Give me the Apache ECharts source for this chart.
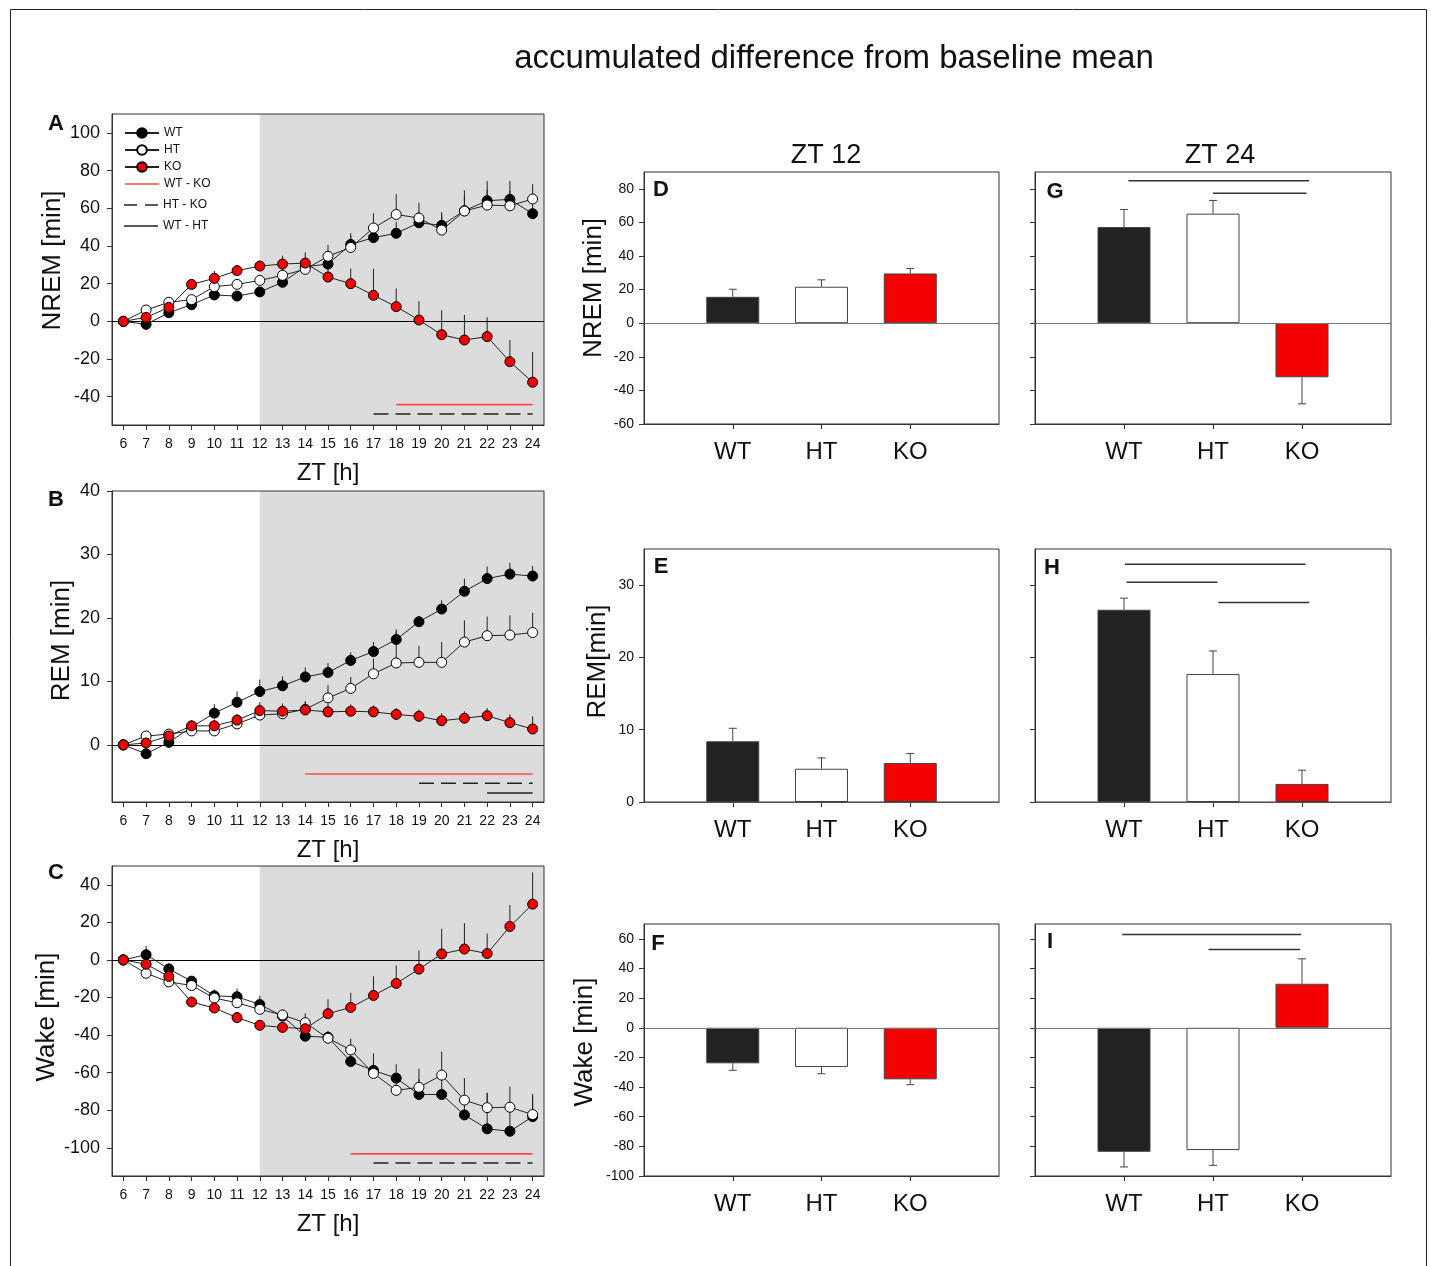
<!DOCTYPE html>
<html><head><meta charset="utf-8">
<script src="https://cdn.jsdelivr.net/npm/echarts@6/dist/echarts.min.js"></script>
<style>html,body{margin:0;padding:0;background:#fff}#c{width:1431px;height:1266px}</style>
</head><body><div id="c"></div>
<script>
const FONT = '"Liberation Sans", Arial, Helvetica, sans-serif';

// ---------- DATA ----------
const hours = [6,7,8,9,10,11,12,13,14,15,16,17,18,19,20,21,22,23,24];
const groups = ['WT','HT','KO'];
const darkStart = 12;

// NREM accumulated difference (panel A)
const nremWT    = [0,-1.6,4.6,8.8,14.0,13.4,15.6,20.7,29.0,30.4,40.8,44.4,46.7,52.3,50.9,58.7,64.0,64.7,57.1];
const nremWTerr = [0,1.5,2,2,2.5,2.5,2.5,3,4,6,6,5,6,6,6,8,10.4,9.7,7];
const nremHT    = [0,6.0,10.1,11.5,18.4,19.6,21.7,24.4,27.6,34.5,39.2,49.5,56.7,54.8,48.4,58.5,61.7,61.3,64.9];
const nremHTerr = [0,2,2,2.5,3,3,3,4,5,6,6,7.8,10.8,8.1,9.5,11,8,8,7.9];
const nremKO    = [0,2.1,7.4,19.6,22.8,26.9,29.3,30.4,30.9,23.5,20.0,13.8,7.8,0.7,-7.1,-9.9,-8.1,-21.4,-32.3];
const nremKOerr = [0,2,2,2.5,3.9,3,3,4.4,5.7,4.4,8,14,9.7,10,13,13.3,10.2,11.5,16];

// REM accumulated difference (panel B)
const remWT    = [0,-1.4,0.4,2.8,5.0,6.7,8.4,9.3,10.7,11.4,13.3,14.7,16.6,19.4,21.4,24.2,26.2,26.9,26.6];
const remWTerr = [0,0.5,0.5,0.8,1.4,1.7,1.9,1.5,1.5,1.5,1.3,1.5,1.6,0.9,1.4,2.0,1.9,1.8,1.6];
const remHT    = [0,1.4,1.7,2.2,2.2,3.3,4.7,4.9,5.6,7.4,8.9,11.2,12.9,13.0,13.0,16.2,17.2,17.3,17.7];
const remHTerr = [0,0.5,0.6,0.8,0.9,1.0,1.2,1.2,1.3,2.0,1.8,2.4,5.0,2.6,3.2,3.4,3.0,3.1,3.1];
const remKO    = [0,0.3,1.4,3.0,3.0,3.9,5.4,5.3,5.5,5.2,5.3,5.2,4.8,4.5,3.8,4.2,4.6,3.5,2.5];
const remKOerr = [0,0.5,0.5,0.9,1.0,1.0,1.3,1.2,1.2,1.3,1.1,1.0,1.0,1.1,1.2,1.1,1.2,1.3,2.0];

// Wake accumulated difference (panel C)
const wakeWT    = [0,2.8,-4.8,-11.3,-19.1,-19.6,-23.7,-29.9,-40.6,-41.2,-54.1,-58.8,-62.9,-71.6,-71.6,-82.5,-89.9,-91.2,-83.4];
const wakeWTerr = [0,4.6,3.2,1.8,3.4,4.4,4.6,3,4,3,5,9,7.4,8,8,8,19,13,11];
const wakeHT    = [0,-7.1,-11.7,-13.6,-20.3,-22.8,-26.3,-29.3,-33.4,-41.7,-47.9,-60.4,-69.4,-67.8,-61.3,-74.6,-78.6,-78.4,-82.3];
const wakeHTerr = [0,2,2,2,3,3,3,3,5,4,6,7,8,10,12.5,11.7,8,11,11];
const wakeKO    = [0,-2.3,-8.8,-22.4,-25.6,-30.7,-34.8,-35.9,-36.6,-28.6,-25.3,-18.9,-12.5,-4.9,3.2,5.8,3.4,17.8,29.7];
const wakeKOerr = [0,2,2,2.8,3,3,2.6,3,5,7.6,7.8,10.2,9.5,10,13.4,13.8,10.6,11.5,16.9];

// Bar panels: value at ZT12 / ZT24 and SEM
const nremZT12 = [15.7,21.7,29.6],  nremZT12err = [4.5,4.1,3.0];
const nremZT24 = [57.2,65.2,-32.2], nremZT24err = [10.5,7.9,15.8];
const remZT12  = [8.4,4.6,5.4],     remZT12err  = [1.8,1.5,1.3];
const remZT24  = [26.6,17.7,2.5],   remZT24err  = [1.6,3.2,1.9];
const wakeZT12 = [-24.0,-26.5,-34.8], wakeZT12err = [4.7,4.5,3.6];
const wakeZT24 = [-83.7,-82.5,29.7],  wakeZT24err = [10.2,10.3,16.8];

// Tick labels
const nremTicks = [-40,-20,0,20,40,60,80,100];
const remTicks  = [0,10,20,30,40];
const wakeTicks = [-100,-80,-60,-40,-20,0,20,40];
const barNremTicks = [-60,-40,-20,0,20,40,60,80];
const barRemTicks  = [0,10,20,30];
const barWakeTicks = [-100,-80,-60,-40,-20,0,20,40,60];

// Significance bars: [pair, from, to, level]
const sigNrem = [['WT - KO',18,24,-44.2],['HT - KO',17,24,-49.2]];
const sigRem  = [['WT - KO',14,24,-4.6],['HT - KO',19,24,-6.05],['WT - HT',22,24,-7.6]];
const sigWake = [['WT - KO',16,24,-103.2],['HT - KO',17,24,-108.1]];
const sigG = [[1.05,3.08,84.8],[2.0,3.05,77.4]];
const sigH = [[1.01,3.04,32.9],[1.03,2.05,30.4],[2.06,3.08,27.6]];
const sigI = [[0.98,2.99,62.9],[1.95,2.98,52.8]];

// ---------- LAYOUT / STYLE ----------
const boxes = [
  [112,114,432,311],[112,491,432,311],[112,866,432,310],
  [644,172,355,252],[644,549,355,253],[644,924,355,252],
  [1035,172,356,252],[1035,549,356,253],[1035,924,356,252]
];
const sigStyle = {
  'WT - KO': {color:'#ff4a4a', width:1.6, type:'solid'},
  'HT - KO': {color:'#222', width:1.5, type:[15,7]},
  'WT - HT': {color:'#222', width:1.5, type:'solid'}
};
const sigIcon = {
  'WT - KO': 'path://M0,0H34V1.6H0Z',
  'HT - KO': 'path://M0,0H13V1.6H0Z M21,0H34V1.6H21Z',
  'WT - HT': 'path://M0,0H34V1.6H0Z'
};
const fills = {WT:'#000', HT:'#fff', KO:'#f00000'};
const barFills = ['#222222','#ffffff','#f50000'];

function legendItem(n) {
  if (!sigIcon[n]) return {name:n};
  return {name:n, icon:sigIcon[n], itemStyle:{color:sigStyle[n].color, borderWidth:0}};
}

const option = {
  animation:false, backgroundColor:'#fff', textStyle:{fontFamily:FONT},
  grid:[], xAxis:[], yAxis:[], series:[],
  legend:[
    {data:['WT','HT','KO','WT - KO'].map(legendItem), orient:'vertical', left:124, top:127, itemWidth:34, itemHeight:12, itemGap:5,
     selectedMode:false, padding:0, symbolKeepAspect:true, textStyle:{fontSize:12, color:'#111', fontFamily:FONT}},
    {data:['HT - KO','WT - HT'].map(legendItem), orient:'vertical', left:124, top:199, itemWidth:34, itemHeight:12, itemGap:9,
     selectedMode:false, padding:0, symbolKeepAspect:true, textStyle:{fontSize:12, color:'#111', fontFamily:FONT}}
  ],
  graphic:[]
};

boxes.forEach(b => option.grid.push({left:b[0], top:b[1], width:b[2], height:b[3], show:true,
  borderColor:'#333', borderWidth:1, backgroundColor:'rgba(0,0,0,0)', z:10}));

function yAxisCfg(gi, min, max, ticks, name, showLabels, fs, gap, shift) {
  return {gridIndex:gi, type:'value', min, max, splitLine:{show:false},
    axisLine:{show:true, onZero:false, lineStyle:{color:'#333'}},
    axisTick:{show:true, customValues:ticks, length:5, lineStyle:{color:'#333'}},
    axisLabel:{show:showLabels, customValues:ticks, fontSize:fs, color:'#111', margin:fs > 15 ? 12 : 10, fontFamily:FONT},
    name:name || '', nameLocation:'middle', nameRotate:90, nameGap:gap,
    nameTextStyle:{fontSize:26, color:'#111', fontFamily:FONT, padding:[0,0,0,shift || 0]}};
}

function errRender(cap) {
  return function (params, api) {
    const x = api.value(0), y = api.value(1), e = api.value(2);
    const dir = (cap > 0 && y < 0) ? -1 : 1;
    const p0 = api.coord([x, y]);
    const p1 = api.coord([x, y + dir * e]);
    const st = {stroke: cap > 0 ? '#444' : '#222', lineWidth:1};
    const ch = [{type:'line', shape:{x1:p0[0], y1:p0[1], x2:p1[0], y2:p1[1]}, style:st}];
    if (cap > 0) ch.push({type:'line', shape:{x1:p1[0]-cap, y1:p1[1], x2:p1[0]+cap, y2:p1[1]}, style:st});
    return {type:'group', children:ch};
  };
}

// ---------- LINE PANELS ----------
const lineCfg = [
  {name:'NREM [min]', min:-55, max:110, ticks:nremTicks, shift:18, s:{WT:[nremWT,nremWTerr], HT:[nremHT,nremHTerr], KO:[nremKO,nremKOerr]}, sig:sigNrem},
  {name:'REM [min]', min:-9, max:40, ticks:remTicks, shift:12, s:{WT:[remWT,remWTerr], HT:[remHT,remHTerr], KO:[remKO,remKOerr]}, sig:sigRem},
  {name:'Wake [min]', min:-115, max:50, ticks:wakeTicks, shift:8, s:{WT:[wakeWT,wakeWTerr], HT:[wakeHT,wakeHTerr], KO:[wakeKO,wakeKOerr]}, sig:sigWake}
];
lineCfg.forEach((c, gi) => {
  option.xAxis.push({gridIndex:gi, type:'value', min:5.5, max:24.5, splitLine:{show:false},
    axisLine:{show:true, onZero:false, lineStyle:{color:'#333'}},
    axisTick:{show:true, customValues:hours, length:5, lineStyle:{color:'#333'}},
    axisLabel:{customValues:hours, fontSize:14, color:'#111', margin:12, fontFamily:FONT},
    name:'ZT [h]', nameLocation:'middle', nameGap:36, nameTextStyle:{fontSize:24, color:'#111', fontFamily:FONT}});
  option.yAxis.push(yAxisCfg(gi, c.min, c.max, c.ticks, c.name, true, 18, 37, c.shift));
  // error bars (behind)
  groups.forEach(g => {
    const [vals, errs] = c.s[g];
    option.series.push({type:'custom', xAxisIndex:gi, yAxisIndex:gi, silent:true, z:2,
      renderItem:errRender(0), data:hours.map((h,i) => [h, vals[i], errs[i]])});
  });
  // lines
  groups.forEach((g, k) => {
    const [vals] = c.s[g];
    const s = {type:'line', name:g, xAxisIndex:gi, yAxisIndex:gi, z:3,
      data:hours.map((h,i) => [h, vals[i]]),
      symbol:'circle', symbolSize:10, showSymbol:true,
      lineStyle:{color:'#222', width:1},
      itemStyle:{color:fills[g], borderColor:'#000', borderWidth:1}};
    if (k === 0) {
      s.markArea = {silent:true, z:1, itemStyle:{color:'#dcdcdc'}, data:[[{xAxis:darkStart},{xAxis:24.5}]]};
      s.markLine = {silent:true, z:1.5, symbol:'none', label:{show:false},
        lineStyle:{color:'#000', width:1.2, type:'solid'}, data:[{yAxis:0}]};
    }
    option.series.push(s);
  });
  // significance lines
  c.sig.forEach(sg => {
    option.series.push({type:'line', name:sg[0], xAxisIndex:gi, yAxisIndex:gi, z:3, silent:true,
      symbol:'none', lineStyle:sigStyle[sg[0]], itemStyle:{color:sigStyle[sg[0]].color},
      data:[[sg[1], sg[3]],[sg[2], sg[3]]]});
  });
});

// ---------- BAR PANELS ----------
const barCfg = [
  {gi:3, name:'NREM [min]', min:-60, max:90, ticks:barNremTicks, v:nremZT12, e:nremZT12err, sig:[], labels:true, gap:37, shift:20},
  {gi:4, name:'REM[min]', min:0, max:35, ticks:barRemTicks, v:remZT12, e:remZT12err, sig:[], labels:true, gap:33, shift:28},
  {gi:5, name:'Wake [min]', min:-100, max:70, ticks:barWakeTicks, v:wakeZT12, e:wakeZT12err, sig:[], labels:true, gap:46, shift:16},
  {gi:6, name:'', min:-60, max:90, ticks:barNremTicks, v:nremZT24, e:nremZT24err, sig:sigG, labels:false, gap:30},
  {gi:7, name:'', min:0, max:35, ticks:barRemTicks, v:remZT24, e:remZT24err, sig:sigH, labels:false, gap:30},
  {gi:8, name:'', min:-100, max:70, ticks:barWakeTicks, v:wakeZT24, e:wakeZT24err, sig:sigI, labels:false, gap:30}
];
const catPos = groups.map((g,i) => i + 1);
barCfg.forEach(c => {
  const gi = c.gi;
  option.xAxis.push({gridIndex:gi, type:'value', min:0, max:4, splitLine:{show:false},
    axisLine:{show:true, onZero:false, lineStyle:{color:'#333'}},
    axisTick:{show:true, customValues:catPos, length:5, lineStyle:{color:'#333'}},
    axisLabel:{customValues:catPos, fontSize:24, color:'#111', margin:16, fontFamily:FONT,
      formatter:v => groups[Math.round(v) - 1] || ''}});
  option.yAxis.push(yAxisCfg(gi, c.min, c.max, c.ticks, c.name, c.labels, 14, c.gap, c.shift));
  option.series.push({type:'bar', xAxisIndex:gi, yAxisIndex:gi, barWidth:53, z:3, silent:true,
    data:groups.map((g,i) => ({value:[i+1, c.v[i]], itemStyle:{color:barFills[i], borderColor:'#444', borderWidth:1}})),
    markLine:{silent:true, symbol:'none', label:{show:false}, lineStyle:{color:'#777', width:1, type:'solid'}, data:[{yAxis:0}]}});
  option.series.push({type:'custom', xAxisIndex:gi, yAxisIndex:gi, silent:true, z:4,
    renderItem:errRender(4), data:groups.map((g,i) => [i+1, c.v[i], c.e[i]])});
  c.sig.forEach(sg => {
    option.series.push({type:'line', xAxisIndex:gi, yAxisIndex:gi, z:3, silent:true, symbol:'none',
      lineStyle:{color:'#333', width:1.5}, data:[[sg[0], sg[2]],[sg[1], sg[2]]]});
  });
});

// ---------- TEXT ----------
function txt(x, y, t, fs, bold) {
  return {type:'text', x, y, z:20, silent:true,
    style:{text:t, fontSize:fs, fontWeight:bold ? 'bold' : 'normal', fontFamily:FONT, fill:'#111', align:'center', verticalAlign:'middle'}};
}
option.graphic = [
  {type:'rect', silent:true, z:0, shape:{x:10.5, y:9.5, width:1416, height:1270}, style:{fill:'none', stroke:'#222', lineWidth:1}},
  txt(834, 59, 'accumulated difference from baseline mean', 33, false),
  txt(826, 156, 'ZT 12', 27, false),
  txt(1220, 156, 'ZT 24', 27, false),
  txt(56, 124, 'A', 22, true), txt(56, 500, 'B', 22, true), txt(56, 873, 'C', 22, true),
  txt(661, 190, 'D', 22, true), txt(661, 567, 'E', 22, true), txt(658, 944, 'F', 22, true),
  txt(1055, 192, 'G', 22, true), txt(1052, 568, 'H', 22, true), txt(1050, 942, 'I', 22, true)
];

const chart = echarts.init(document.getElementById('c'), null, {renderer:'canvas'});
chart.setOption(option);
</script></body></html>
